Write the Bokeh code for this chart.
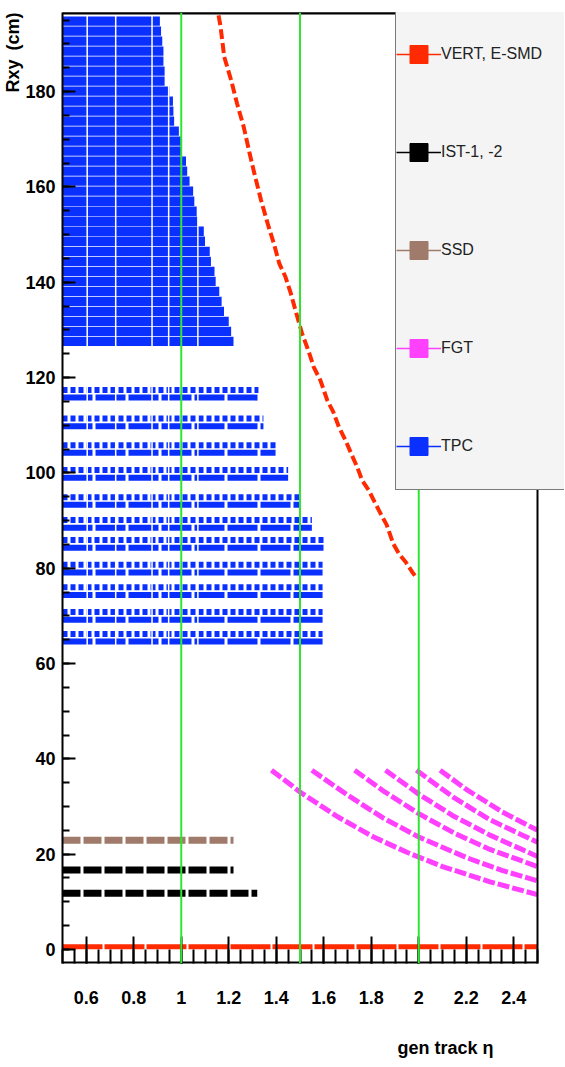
import numpy as np
from bokeh.plotting import figure
from bokeh.models import FixedTicker, SingleIntervalTicker, Legend, LegendItem, Span, Title
from bokeh.embed import file_html
from bokeh.resources import INLINE

# ---------------- data ----------------
eta_ticks = [0.6, 0.8, 1.0, 1.2, 1.4, 1.6, 1.8, 2.0, 2.2, 2.4]
eta_tick_labels = ["0.6", "0.8", "1", "1.2", "1.4", "1.6", "1.8", "2", "2.2", "2.4"]
eta_gen_min = 0.5
eta_gen_max = 2.5
eta_reference_lines = [1.0, 1.5, 2.0]
r_min, r_max = -2.94, 196.6

# TPC outer pad rows: radius (cm) and largest eta reached
tpc_outer_r = [127.6, 129.7, 131.8, 133.9, 136.0, 138.1, 140.2, 142.3, 144.4, 146.5, 148.6,
               150.7, 152.8, 154.9, 157.0, 159.1, 161.2, 163.3, 165.4, 167.5, 169.6, 171.7,
               173.8, 175.9, 178.0, 180.1, 182.2, 184.3, 186.4, 188.5, 190.6, 192.7, 194.8]
tpc_outer_eta_max = [1.22, 1.21, 1.20, 1.18, 1.17, 1.16, 1.145, 1.14, 1.125, 1.12, 1.10,
                     1.095, 1.07, 1.065, 1.055, 1.05, 1.035, 1.025, 1.02, 1.00, 0.998, 0.99,
                     0.97, 0.967, 0.965, 0.95, 0.93, 0.93, 0.925, 0.925, 0.92, 0.915, 0.91]
# TPC inner pad rows
tpc_inner_r = [65.5, 70.1, 75.3, 80.0, 85.2, 89.4, 94.2, 99.9, 105.1, 110.7, 116.7]
tpc_inner_eta_max = [1.595, 1.595, 1.595, 1.595, 1.60, 1.55, 1.498, 1.45, 1.397, 1.346, 1.325]
# empty eta columns seen across the TPC rows
tpc_gap_eta = [0.604, 0.724, 0.877, 0.947, 1.07]

# silicon layers
ssd_r = [22.9]
ssd_eta_max = [1.22]
ist_r = [11.8, 16.7]
ist_eta_max = [1.32, 1.22]
vert_r = [0.6]
vert_eta_max = [2.5]

# endcap SMD hits
esmd_eta = [1.157, 1.165, 1.181, 1.21, 1.235, 1.263, 1.288, 1.308, 1.336, 1.364, 1.39, 1.413,
            1.439, 1.46, 1.481, 1.509, 1.537, 1.558, 1.586, 1.615, 1.64, 1.664, 1.692, 1.716,
            1.741, 1.762, 1.79, 1.814, 1.84, 1.865, 1.893, 1.917, 1.945, 1.973, 1.992]
esmd_r = [196.0, 193.8, 187.3, 182.4, 177.5, 172.6, 167.0, 162.8, 157.2, 152.3, 148.1, 143.9,
          141.1, 137.9, 134.1, 129.2, 125.4, 122.2, 119.4, 115.2, 112.8, 109.6, 106.8, 104.0,
          101.2, 98.4, 96.3, 93.9, 91.4, 89.1, 85.1, 83.0, 81.3, 79.2, 77.8]

# FGT disks
fgt_eta = [
    [1.38, 1.51, 1.66, 1.81, 1.95, 2.10, 2.30, 2.50],
    [1.55, 1.70, 1.85, 2.00, 2.20, 2.35, 2.50],
    [1.73, 1.85, 2.00, 2.15, 2.30, 2.50],
    [1.86, 2.00, 2.15, 2.30, 2.50],
    [1.99, 2.15, 2.30, 2.50],
    [2.09, 2.20, 2.35, 2.50],
]
fgt_r = [
    [37.6, 32.7, 27.8, 23.6, 20.4, 17.4, 14.2, 11.5],
    [37.6, 32.4, 27.6, 23.6, 19.3, 16.6, 14.4],
    [37.6, 33.3, 28.5, 24.4, 21.0, 17.4],
    [37.6, 32.6, 27.9, 24.0, 19.5],
    [37.6, 31.8, 27.2, 22.5],
    [37.6, 33.6, 28.9, 25.0],
]

legend_labels = ["VERT, E-SMD", "IST-1, -2", "SSD", "FGT", "TPC"]

# ---------------- style ----------------
RED = "#ff2a00"
BLACK = "#000000"
BROWN = "#a07a6a"
MAGENTA = "#ff40ff"
BLUE = "#0a30ff"
GREEN = "#2ee62e"
FONT = "Liberation Sans"

# the frame is widened 27 px to the right so the legend box can overhang the axes box
x_end = eta_gen_max + (eta_gen_max - eta_gen_min) * 27.0 / 475.0
p = figure(width=565, height=1067, output_backend="svg", toolbar_location=None,
           x_range=(eta_gen_min, x_end), y_range=(r_min, r_max),
           min_border_left=62, min_border_right=1, min_border_top=12, min_border_bottom=104)
p.xgrid.visible = False
p.ygrid.visible = False
p.outline_line_color = None
p.background_fill_color = "white"
p.border_fill_color = "white"

# TPC
p.hbar(y=tpc_outer_r, left=eta_gen_min, right=tpc_outer_eta_max, height=1.95,
       fill_color=BLUE, line_color=None)
inner_base = [r - 0.9 for r in tpc_inner_r]
inner_top = [r + 0.7 for r in tpc_inner_r]
p.segment(x0=eta_gen_min, y0=inner_base, x1=tpc_inner_eta_max, y1=inner_base,
          line_color=BLUE, line_width=6, line_dash="30 3", line_cap="butt")
p.segment(x0=eta_gen_min, y0=inner_top, x1=tpc_inner_eta_max, y1=inner_top,
          line_color=BLUE, line_width=6, line_dash="5 3", line_cap="butt")
p.segment(x0=tpc_gap_eta, y0=tpc_inner_r[0] - 3, x1=tpc_gap_eta, y1=tpc_outer_r[-1] + 2,
          line_color="white", line_width=1.5)

# silicon + vertex
p.segment(x0=eta_gen_min, y0=ssd_r, x1=ssd_eta_max, y1=ssd_r,
          line_color=BROWN, line_width=7, line_dash="18 3", line_cap="butt")
p.segment(x0=eta_gen_min, y0=ist_r, x1=ist_eta_max, y1=ist_r,
          line_color=BLACK, line_width=7, line_dash="18 3", line_cap="butt")
p.segment(x0=eta_gen_min, y0=vert_r, x1=vert_eta_max, y1=vert_r,
          line_color=RED, line_width=5, line_dash="40 2", line_cap="butt")

# E-SMD
p.line(esmd_eta, esmd_r, line_color=RED, line_width=4, line_dash="10 4")

# FGT
p.multi_line(fgt_eta, fgt_r, line_color=MAGENTA, line_width=5, line_dash="12 3")

# green reference lines
for e in eta_reference_lines:
    p.add_layout(Span(location=e, dimension="height", line_color=GREEN, line_width=2))

# axes box (top, right, bottom edges drawn at the eta range limits)
p.segment(x0=[eta_gen_min, eta_gen_max], y0=[r_max, r_min],
          x1=[eta_gen_max, eta_gen_max], y1=[r_max, r_max],
          line_color="black", line_width=2)
p.segment(x0=[eta_gen_min, eta_gen_min], y0=[r_max, r_min],
          x1=[eta_gen_max, eta_gen_max], y1=[r_max, r_min],
          line_color="black", line_width=4)

# axes
minor = [round(eta_gen_min + 0.05 * i, 2) for i in range(41)]
p.xaxis.ticker = FixedTicker(ticks=eta_ticks, minor_ticks=minor)
p.xaxis.major_label_overrides = {t: l for t, l in zip(eta_ticks, eta_tick_labels)}
p.yaxis.ticker = SingleIntervalTicker(interval=20, num_minor_ticks=4)
for ax in (p.xaxis[0], p.yaxis[0]):
    ax.axis_line_width = 2
    ax.major_tick_out = 0
    ax.minor_tick_out = 0
    ax.major_tick_line_width = 2
    ax.minor_tick_line_width = 2
    ax.major_label_text_font = FONT
    ax.major_label_text_font_style = "bold"
    ax.major_label_text_font_size = "18px"
    ax.major_label_text_color = "black"
p.xaxis.axis_line_color = None
p.xaxis.major_tick_in = 27
p.xaxis.minor_tick_in = 14
p.xaxis.major_label_standoff = 27
p.yaxis.major_tick_in = 13
p.yaxis.minor_tick_in = 7
p.yaxis.major_label_standoff = 7

p.add_layout(Title(text="Rxy\u2002(cm)", align="right", standoff=0, offset=0,
                   text_font=FONT, text_font_style="bold", text_font_size="18px",
                   text_color="black"), "left")
# spacer title, then the x-axis title right-aligned under the axis end
p.add_layout(Title(text=" ", standoff=3, text_font=FONT, text_font_size="17px"), "below")
p.add_layout(Title(text="gen track \u03b7", align="right", standoff=10, offset=71,
                   text_font=FONT, text_font_style="bold", text_font_size="18px",
                   text_color="black"), "below")

# legend (line + square swatch per detector)
colors = [RED, BLACK, BROWN, MAGENTA, BLUE]
ref_x = [esmd_eta[0], ist_eta_max[0], ssd_eta_max[0], fgt_eta[0][0], tpc_outer_eta_max[0]]
ref_y = [esmd_r[0], ist_r[0], ssd_r[0], fgt_r[0][0], tpc_outer_r[0]]
items = []
for lab, c, xx, yy in zip(legend_labels, colors, ref_x, ref_y):
    lr = p.line(x=[xx], y=[yy], line_color=c, line_width=1.5)
    sr = p.scatter(x=[xx], y=[yy], marker="square", fill_color=c, line_color=c, size=0)
    items.append(LegendItem(label=lab, renderers=[lr, sr]))
legend = Legend(items=items, location=(333, 473), padding=0, spacing=12, margin=0,
                glyph_width=45, glyph_height=86, label_height=86, label_width=124,
                label_standoff=-2, label_text_font=FONT, label_text_font_size="16px",
                label_text_color="#222222", background_fill_color="#f4f4f4",
                background_fill_alpha=1.0, border_line_color="black", border_line_width=1.5)
p.add_layout(legend)

open("out.html", "w").write(file_html(p, INLINE))
